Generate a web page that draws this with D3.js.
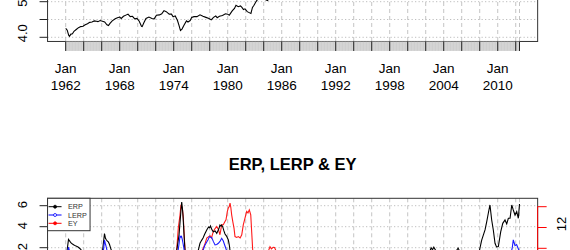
<!DOCTYPE html>
<html>
<head>
<meta charset="utf-8">
<script src="https://cdn.jsdelivr.net/npm/d3@7"></script>
<style>
  body { margin: 0; background: #fff; }
  text { font-family: "Liberation Sans", Arial, Helvetica, sans-serif; }
</style>
</head>
<body>
<div id="chart"></div>
<script>
// log S&P 500 (top panel), [decimal year, value]
var spLog = [
  [1962.00,4.25],[1962.17,4.20],[1962.33,4.06],[1962.42,4.03],[1962.58,4.09],[1962.75,4.10],
  [1962.92,4.17],[1963.17,4.22],[1963.42,4.27],[1963.67,4.30],[1963.92,4.31],[1964.17,4.35],
  [1964.42,4.38],[1964.67,4.42],[1964.92,4.43],[1965.17,4.46],[1965.42,4.45],[1965.58,4.44],
  [1965.83,4.47],[1966.08,4.45],[1966.33,4.43],[1966.58,4.35],[1966.75,4.33],[1966.92,4.39],
  [1967.17,4.46],[1967.50,4.52],[1967.75,4.55],[1968.00,4.57],[1968.17,4.53],[1968.42,4.59],
  [1968.75,4.63],[1968.92,4.65],[1969.17,4.58],[1969.42,4.59],[1969.67,4.52],[1969.92,4.53],
  [1970.17,4.45],[1970.42,4.31],[1970.50,4.30],[1970.67,4.40],[1970.92,4.53],[1971.25,4.57],
  [1971.58,4.53],[1971.83,4.52],[1972.08,4.62],[1972.42,4.63],[1972.67,4.66],[1972.92,4.75],
  [1973.17,4.72],[1973.50,4.65],[1973.75,4.65],[1973.92,4.58],[1974.17,4.60],[1974.42,4.47],
  [1974.58,4.34],[1974.75,4.19],[1974.92,4.23],[1975.17,4.35],[1975.42,4.46],[1975.58,4.43],
  [1975.83,4.47],[1976.00,4.56],[1976.25,4.58],[1976.58,4.58],[1976.92,4.63],[1977.25,4.59],
  [1977.58,4.56],[1977.92,4.53],[1978.17,4.49],[1978.42,4.56],[1978.67,4.60],[1978.83,4.55],
  [1979.08,4.59],[1979.42,4.61],[1979.75,4.66],[1980.00,4.65],[1980.17,4.62],[1980.33,4.68],
  [1980.50,4.74],[1980.75,4.81],[1980.92,4.90],[1981.17,4.86],[1981.42,4.88],[1981.58,4.84],
  [1981.75,4.78],[1981.92,4.80],[1982.17,4.72],[1982.33,4.70],[1982.58,4.67],[1982.75,4.84],
  [1982.92,4.90],[1983.17,5.01],[1983.42,5.10],[1983.67,5.11],[1983.92,5.12],[1984.17,5.06],
  [1984.42,5.03],[1984.58,5.08],[1984.92,5.12],[1985.50,5.27],[1986.00,5.35],[1986.50,5.47],
  [1987.00,5.56],[1987.60,5.80],[1987.83,5.47],[1988.50,5.60],[1989.50,5.81],[1990.50,5.85],
  [1990.80,5.73],[1991.50,5.94],[1992.50,6.03],[1993.50,6.10],[1994.50,6.10],[1995.50,6.30],
  [1996.50,6.50],[1997.50,6.80],[1998.60,6.90],[1999.50,7.20],[2000.20,7.33],[2001.00,7.15],
  [2001.70,6.98],[2002.75,6.70],[2003.50,6.90],[2004.50,7.00],[2005.50,7.10],[2006.50,7.15],
  [2007.80,7.36],[2008.50,7.15],[2009.17,6.60],[2009.75,6.95],[2010.50,6.98],[2011.30,7.20],
  [2011.70,7.05],[2012.25,7.30],[2012.42,7.20]
];

// ERP (black, left axis)
var erp = [
  [1962.00,1.2],[1962.15,1.7],[1962.31,2.78],[1962.45,2.62],[1962.59,2.45],[1962.75,2.35],
  [1962.92,2.26],[1963.15,2.15],[1963.37,2.07],[1963.60,1.9],[1963.80,1.7],[1964.20,1.3],
  [1965.00,1.0],[1965.80,1.3],[1966.09,1.7],[1966.31,3.35],[1966.42,2.9],[1966.53,2.73],
  [1966.65,2.6],[1966.73,2.57],[1966.87,2.3],[1967.00,1.94],[1967.14,1.6],[1967.60,1.1],
  [1968.50,0.8],[1969.50,0.9],[1970.40,1.5],[1971.00,0.9],[1972.00,0.6],[1973.00,0.5],
  [1973.80,1.0],[1974.33,1.7],[1974.59,3.2],[1974.72,4.6],[1974.81,5.6],[1974.89,6.35],
  [1974.96,5.8],[1975.03,5.1],[1975.15,3.2],[1975.26,1.7],[1975.60,1.2],[1976.20,1.3],
  [1976.73,1.75],[1976.92,2.42],[1977.10,2.7],[1977.26,2.92],[1977.45,3.3],[1977.67,3.69],
  [1977.87,3.97],[1978.00,3.9],[1978.09,4.07],[1978.25,3.7],[1978.40,3.52],[1978.60,3.6],
  [1978.78,3.37],[1978.96,3.69],[1979.05,3.9],[1979.14,4.16],[1979.25,4.05],[1979.33,4.16],
  [1979.44,4.0],[1979.58,3.6],[1979.70,3.3],[1979.87,3.11],[1980.07,2.73],[1980.17,2.3],
  [1980.26,1.7],[1980.60,1.0],[1981.50,0.8],[1982.50,1.2],[1983.50,0.5],[1985.00,0.3],
  [1990.00,0.0],[1995.00,-1.0],[1999.50,-2.5],[2001.00,-0.5],[2002.40,1.5],[2002.60,2.0],
  [2002.75,1.8],[2002.90,2.05],[2003.10,1.75],[2003.50,1.2],[2004.50,1.4],[2005.40,1.7],
  [2005.60,1.96],[2005.80,1.6],[2006.50,1.0],[2007.50,1.2],[2007.96,1.7],[2008.22,2.73],
  [2008.40,3.2],[2008.59,3.69],[2008.78,4.48],[2008.98,5.4],[2009.14,6.07],[2009.33,4.64],
  [2009.51,3.69],[2009.70,2.42],[2009.87,2.07],[2010.07,2.1],[2010.33,3.5],[2010.56,4.32],
  [2010.81,4.64],[2011.00,4.26],[2011.18,4.8],[2011.37,4.8],[2011.56,6.07],[2011.73,5.59],
  [2011.92,5.11],[2012.11,5.43],[2012.29,4.8],[2012.42,6.16]
];

// LERP (blue, left axis)
var lerp = [
  [1962.00,0.8],[1962.22,1.6],[1962.31,2.05],[1962.42,1.7],[1963.00,1.2],[1965.00,0.6],
  [1966.10,1.2],[1966.20,1.78],[1966.31,2.73],[1966.40,2.4],[1966.48,2.16],[1966.60,1.7],
  [1967.20,1.0],[1970.40,0.9],[1973.50,0.5],[1974.45,1.5],[1974.60,2.4],[1974.70,3.1],
  [1974.80,3.0],[1974.87,3.07],[1974.95,2.8],[1975.03,2.45],[1975.12,2.0],[1975.20,1.6],
  [1976.00,0.9],[1977.20,1.6],[1977.45,2.2],[1977.67,2.54],[1977.85,2.8],[1977.96,3.05],
  [1978.10,3.0],[1978.22,2.97],[1978.40,2.6],[1978.59,2.26],[1978.78,2.3],[1978.96,2.42],
  [1979.14,2.6],[1979.33,2.9],[1979.51,2.64],[1979.70,2.16],[1979.87,1.75],[1980.20,1.2],
  [1982.00,0.8],[1985.00,0.3],[1995.00,-0.5],[2000.00,-1.5],[2003.00,0.8],[2008.50,1.0],
  [2009.10,1.6],[2010.00,1.0],[2011.45,1.5],[2011.60,1.9],[2011.73,2.75],[2011.85,2.4],
  [2011.92,2.2],[2012.10,2.3],[2012.29,1.9],[2012.42,1.6]
];

// EY (red, right axis)
var ey = [
  [1962.00,5.8],[1963.00,5.6],[1966.00,6.3],[1967.00,6.0],[1970.40,7.5],[1972.00,5.5],
  [1973.00,5.6],[1973.80,8.0],[1974.33,9.8],[1974.51,11.94],[1974.70,13.2],[1974.81,14.18],
  [1974.90,14.0],[1974.98,13.7],[1975.07,12.9],[1975.17,11.2],[1975.26,9.8],[1975.80,8.9],
  [1976.50,9.0],[1977.00,9.5],[1977.29,10.02],[1977.50,10.5],[1977.67,10.98],[1977.85,11.1],
  [1978.03,11.2],[1978.20,11.0],[1978.40,11.62],[1978.60,11.9],[1978.78,12.1],[1978.98,11.78],
  [1979.14,11.3],[1979.33,12.26],[1979.51,12.26],[1979.65,12.5],[1979.81,12.74],[1979.96,13.54],
  [1980.07,13.9],[1980.17,14.0],[1980.26,14.35],[1980.35,13.9],[1980.44,13.22],[1980.58,12.5],
  [1980.70,11.94],[1980.81,11.13],[1981.00,11.05],[1981.18,11.13],[1981.38,11.0],[1981.56,11.3],
  [1981.73,12.26],[1981.92,12.9],[1982.11,13.54],[1982.25,13.4],[1982.40,13.7],[1982.56,13.22],
  [1982.67,11.5],[1982.78,9.8],[1983.00,8.8],[1983.50,8.0],[1984.00,9.0],[1984.50,9.7],
  [1984.70,10.15],[1984.85,9.95],[1985.05,10.1],[1985.20,10.08],[1985.40,9.7],[1986.00,8.0],
  [1990.00,7.0],[1995.00,6.0],[2000.00,3.8],[2002.70,5.0],[2005.00,5.8],[2009.20,8.0],
  [2010.00,6.5],[2012.42,7.5]
];

var topTicks = [4.0, 4.5, 5.0];
var topLabels = [4.0, 5.0];
var leftTicks = [2, 4, 6];
var rightTicks = [10, 12, 14];
var rightLabels = [12];
var majorYears = d3.range(1962, 2013, 2).concat([2012.42]);
var labelYears = d3.range(1962, 2011, 6);
var legendNames = ["ERP", "LERP", "EY"];
var legendColors = ["#000000", "#0000ff", "#ff0000"];

var W = 570, H = 250;
var svg = d3.select("#chart").append("svg")
  .attr("width", W).attr("height", H);

// x scale shared by both panels (R style 4% padding)
var x = d3.scaleLinear().domain([1962, 2012.42]).range([65.7, 519.5]);
var span = 2012.42 - 1962;
var left = x(1962 - span * 0.04), right = x(2012.42 + span * 0.04);

// ---------- top panel ----------
var yTop = d3.scaleLinear().domain([4.0, 5.0]).range([37.3, 1.7]);
var topBottom = yTop(3.883);

svg.append("clipPath").attr("id", "clipTop")
  .append("rect").attr("x", left).attr("y", -300).attr("width", right - left).attr("height", topBottom + 300);

var gTop = svg.append("g");
gTop.selectAll(".vg").data(majorYears).enter().append("line")
  .attr("x1", d => x(d)).attr("x2", d => x(d))
  .attr("y1", -5).attr("y2", topBottom)
  .attr("stroke", "#c4c4c4").attr("stroke-dasharray", "4,3");
gTop.selectAll(".hg").data(topTicks).enter().append("line")
  .attr("x1", left).attr("x2", right)
  .attr("y1", d => yTop(d)).attr("y2", d => yTop(d))
  .attr("stroke", "#bcbcbc").attr("stroke-dasharray", "1.2,2.3");

gTop.append("path").datum(spLog)
  .attr("clip-path", "url(#clipTop)")
  .attr("fill", "none").attr("stroke", "#000").attr("stroke-width", 1.1)
  .attr("d", d3.line().x(d => x(d[0])).y(d => yTop(d[1])));

gTop.append("rect").attr("x", left).attr("y", -50)
  .attr("width", right - left).attr("height", topBottom + 50)
  .attr("fill", "none").attr("stroke", "#333");

// monthly minor ticks + major ticks
var months = d3.range(0, Math.round(span * 12) + 1).map(i => 1962 + i / 12);
gTop.selectAll(".mt").data(months).enter().append("line")
  .attr("x1", d => x(d)).attr("x2", d => x(d))
  .attr("y1", topBottom).attr("y2", topBottom + 9.5)
  .attr("stroke", "#c6c6c6").attr("stroke-width", 0.8);
gTop.selectAll(".Mt").data(majorYears).enter().append("line")
  .attr("x1", d => x(d)).attr("x2", d => x(d))
  .attr("y1", topBottom).attr("y2", topBottom + 9.5)
  .attr("stroke", "#222").attr("stroke-width", 1);

var xl = gTop.selectAll(".xl").data(labelYears).enter().append("g")
  .attr("transform", d => "translate(" + x(d) + ",0)");
xl.append("text").attr("y", 73).attr("text-anchor", "middle")
  .style("font-size", "13.5px").text("Jan");
xl.append("text").attr("y", 90).attr("text-anchor", "middle")
  .style("font-size", "13.5px").text(d => d);

// left axis top
gTop.selectAll(".lt").data(topTicks).enter().append("line")
  .attr("x1", left - 8).attr("x2", left)
  .attr("y1", d => yTop(d)).attr("y2", d => yTop(d)).attr("stroke", "#222");
gTop.selectAll(".ll").data(topLabels).enter().append("text")
  .attr("transform", d => "translate(27," + (yTop(d) - 4) + ") rotate(-90)")
  .attr("text-anchor", "middle").style("font-size", "13px")
  .text(d => d3.format(".1f")(d));

// ---------- bottom panel ----------
var yL = d3.scaleLinear().domain([2, 6]).range([247.7, 205.7]);
var yR = d3.scaleLinear().domain([10, 14]).range([248.3, 206.7]);
var botTop = 198.3;

svg.append("clipPath").attr("id", "clipBot")
  .append("rect").attr("x", left).attr("y", botTop).attr("width", right - left).attr("height", 200);

svg.append("text").attr("x", (left + right) / 2).attr("y", 170)
  .attr("text-anchor", "middle").style("font-size", "16.5px").style("font-weight", "bold")
  .text("ERP, LERP & EY");

var gBot = svg.append("g");
gBot.selectAll(".vg").data(majorYears).enter().append("line")
  .attr("x1", d => x(d)).attr("x2", d => x(d))
  .attr("y1", botTop).attr("y2", 300)
  .attr("stroke", "#c4c4c4").attr("stroke-dasharray", "4,3");
gBot.selectAll(".hg").data(leftTicks).enter().append("line")
  .attr("x1", left).attr("x2", right)
  .attr("y1", d => yL(d)).attr("y2", d => yL(d))
  .attr("stroke", "#bcbcbc").attr("stroke-dasharray", "1.2,2.3");

var lineL = d3.line().x(d => x(d[0])).y(d => yL(d[1]));
var lineR = d3.line().x(d => x(d[0])).y(d => yR(d[1]));
gBot.append("path").datum(ey).attr("clip-path", "url(#clipBot)")
  .attr("fill", "none").attr("stroke", "#ff1a1a").attr("stroke-width", 1.1).attr("d", lineR);
gBot.append("path").datum(erp).attr("clip-path", "url(#clipBot)")
  .attr("fill", "none").attr("stroke", "#000").attr("stroke-width", 1.1).attr("d", lineL);
gBot.append("path").datum(lerp).attr("clip-path", "url(#clipBot)")
  .attr("fill", "none").attr("stroke", "#1a1aff").attr("stroke-width", 1.1).attr("d", lineL);

gBot.append("rect").attr("x", left).attr("y", botTop)
  .attr("width", right - left).attr("height", 200)
  .attr("fill", "none").attr("stroke", "#333");

// left axis bottom
gBot.selectAll(".lt").data(leftTicks).enter().append("line")
  .attr("x1", left - 8).attr("x2", left)
  .attr("y1", d => yL(d)).attr("y2", d => yL(d)).attr("stroke", "#222");
gBot.selectAll(".ll").data(leftTicks).enter().append("text")
  .attr("transform", d => "translate(27," + (yL(d) - 1) + ") rotate(-90)")
  .attr("text-anchor", "middle").style("font-size", "13px").text(d => d);

// right axis (red)
gBot.append("line").attr("x1", right).attr("x2", right)
  .attr("y1", yR(14)).attr("y2", 300).attr("stroke", "#ff0000");
gBot.selectAll(".rt").data(rightTicks).enter().append("line")
  .attr("x1", right).attr("x2", right + 9)
  .attr("y1", d => yR(d)).attr("y2", d => yR(d)).attr("stroke", "#ff0000");
gBot.selectAll(".rl").data(rightLabels).enter().append("text")
  .attr("transform", d => "translate(566," + (yR(d) - 3.5) + ") rotate(-90)")
  .attr("text-anchor", "middle").style("font-size", "13px").text(d => d);

// legend
var lg = gBot.append("g");
lg.append("rect").attr("x", left).attr("y", botTop).attr("width", 42.5).attr("height", 32.4)
  .attr("fill", "#fff").attr("stroke", "#333");
var rows = lg.selectAll(".row").data(legendNames).enter().append("g")
  .attr("transform", (d, i) => "translate(0," + (206.7 + i * 8.3) + ")");
rows.append("line").attr("x1", left + 1).attr("x2", left + 14)
  .attr("stroke", (d, i) => legendColors[i]).attr("stroke-width", 1);
rows.append("circle").attr("cx", left + 7.5).attr("r", 1.5)
  .attr("fill", (d, i) => i == 1 ? "#fff" : legendColors[i])
  .attr("stroke", (d, i) => legendColors[i]).attr("stroke-width", 0.8);
rows.append("text").attr("x", left + 20.5).attr("dy", "0.35em")
  .style("font-size", "7.2px").attr("fill", "#333").text(d => d);
</script>
</body>
</html>
